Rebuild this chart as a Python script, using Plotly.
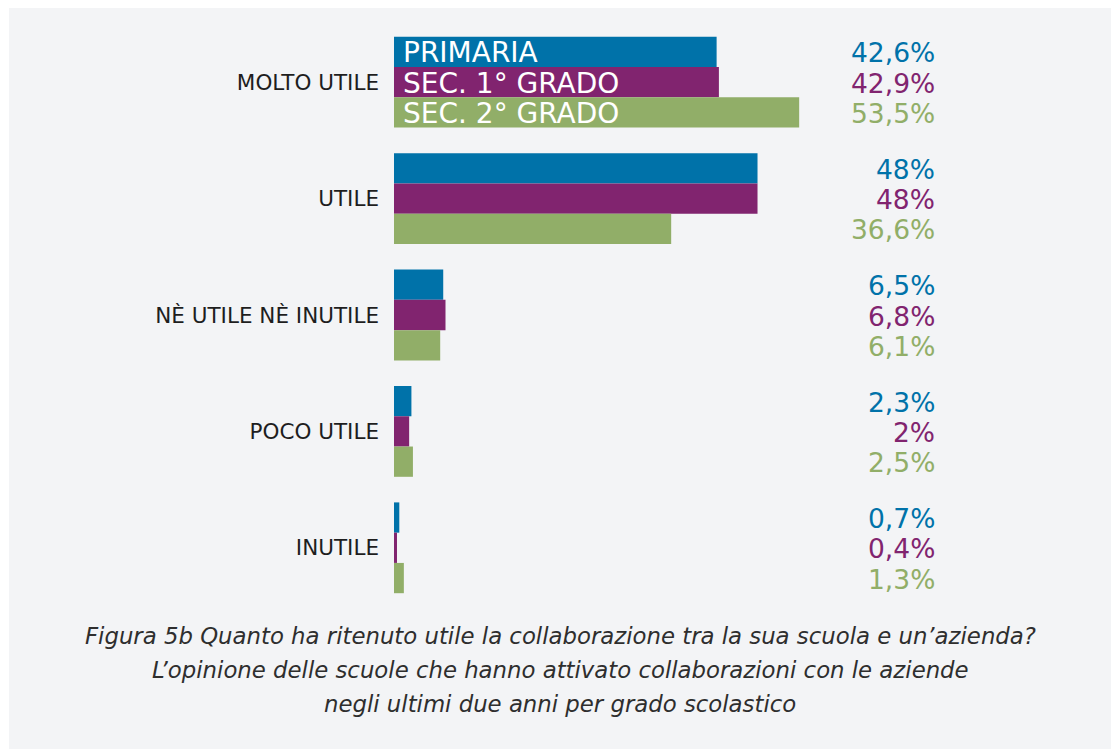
import plotly.graph_objects as go

categories = ["MOLTO UTILE", "UTILE", "NÈ UTILE NÈ INUTILE", "POCO UTILE", "INUTILE"]
series_names = ["PRIMARIA", "SEC. 1° GRADO", "SEC. 2° GRADO"]
primaria = [42.6, 48.0, 6.5, 2.3, 0.7]
sec1 = [42.9, 48.0, 6.8, 2.0, 0.4]
sec2 = [53.5, 36.6, 6.1, 2.5, 1.3]
caption_lines = [
    "Figura 5b Quanto ha ritenuto utile la collaborazione tra la sua scuola e un’azienda?",
    "L’opinione delle scuole che hanno attivato collaborazioni con le aziende",
    "negli ultimi due anni per grado scolastico",
]

colors = ["#0072A9", "#81246F", "#91AE68"]
BG = "#F3F4F6"
FONT = "DejaVu Sans"

OFF = 8  # page body margin
W, H = 1119 - OFF, 754 - OFF
ML, MT = 394 - OFF, 24 - OFF
PLOT_BOTTOM = 606 - OFF
PLOT_RIGHT = 962 - OFF
MR, MB = W - PLOT_RIGHT, H - PLOT_BOTTOM
PW, PH = W - ML - MR, H - MT - MB
XMAX = 75
BARGAP = 0.22

def px_to_paper_x(px):
    return (px - OFF - ML) / PW

def px_to_paper_y(py):
    return (H - MB - (py - OFF)) / PH

fig = go.Figure()
all_series = [primaria, sec1, sec2]
for name, vals, col in zip(series_names, all_series, colors):
    fig.add_trace(go.Bar(
        y=categories, x=vals, name=name, orientation="h",
        marker=dict(color=col, line=dict(width=0)),
        hoverinfo="skip",
    ))

annotations = []
cat_px = PH / len(categories)
bar_px = (1 - BARGAP) / 3 * cat_px
shifts = [bar_px, 0, -bar_px]

def fmt(v):
    return f"{v:g}".replace(".", ",") + "%"

for vals, col, sh in zip(all_series, colors, shifts):
    for cat, v in zip(categories, vals):
        annotations.append(dict(
            xref="paper", yref="y", x=px_to_paper_x(937), y=cat,
            xanchor="right", yanchor="middle", yshift=sh - 1,
            text=fmt(v), showarrow=False,
            font=dict(family=FONT, size=26.5, color=col),
        ))

for name, sh in zip(series_names, shifts):
    annotations.append(dict(
        xref="x", yref="y", x=0, y=categories[0], xanchor="left",
        yanchor="middle", xshift=7, yshift=sh - 1,
        text=name, showarrow=False,
        font=dict(family=FONT, size=28, color="white"),
    ))

for line, py in zip(caption_lines, [636, 670, 704]):
    annotations.append(dict(
        xref="paper", yref="paper", x=px_to_paper_x(560), y=px_to_paper_y(py),
        xanchor="center", yanchor="middle", text=line, showarrow=False,
        font=dict(family=FONT, size=22.8, color="#2E2E2E", style="italic"),
    ))

fig.update_layout(
    width=W, height=H,
    margin=dict(l=ML, r=MR, t=MT, b=MB, pad=0),
    barmode="group", bargap=BARGAP, bargroupgap=0,
    paper_bgcolor="white", plot_bgcolor=BG,
    showlegend=False,
    xaxis=dict(range=[0, XMAX], visible=False, fixedrange=True),
    yaxis=dict(autorange="reversed", showgrid=False, zeroline=False, showline=False,
               ticks="", ticklabelstandoff=14,
               tickfont=dict(family=FONT, size=21.5, color="#1E1E1E"),
               fixedrange=True),
    annotations=annotations,
    shapes=[dict(type="rect", xref="paper", yref="paper", layer="below",
                 x0=px_to_paper_x(9), x1=px_to_paper_x(1113),
                 y0=px_to_paper_y(749), y1=px_to_paper_y(6),
                 fillcolor=BG, line=dict(width=0))],
)

fig.write_html("out.html", config={"displayModeBar": False})
